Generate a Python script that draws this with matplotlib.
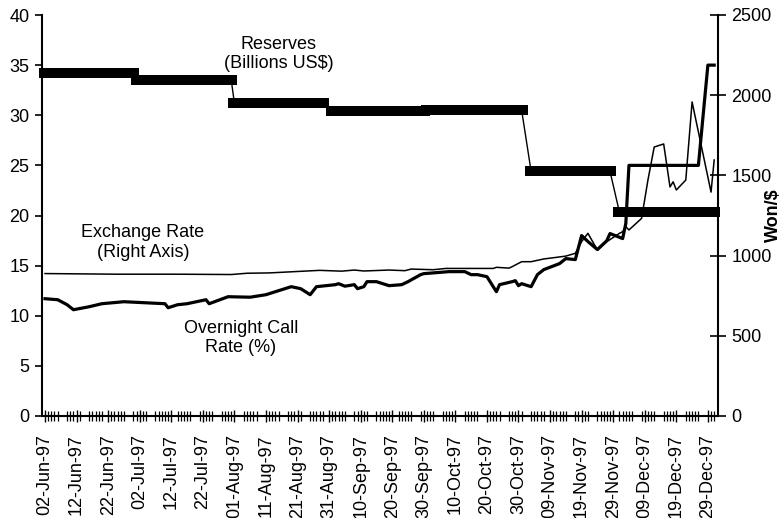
import matplotlib
matplotlib.use("Agg")
import matplotlib.pyplot as plt
import matplotlib.dates as mdates
import matplotlib.ticker as mticker
import pandas as pd

plt.rcParams['font.family'] = ['Liberation Sans', 'DejaVu Sans']
plt.rcParams['font.size'] = 13

# Usable reserves by month, billions US$
reserve_months = ['1997-06', '1997-07', '1997-08', '1997-09', '1997-10', '1997-11', '1997-12']
reserve_values = [34.2, 33.5, 31.2, 30.4, 30.5, 24.4, 20.3]

# Overnight call rate, %
call_dates = ['1997-06-02', '1997-06-06', '1997-06-09', '1997-06-11', '1997-06-16', '1997-06-20',
              '1997-06-27', '1997-07-10', '1997-07-11', '1997-07-14', '1997-07-17', '1997-07-23',
              '1997-07-24', '1997-07-30', '1997-08-06', '1997-08-11', '1997-08-14', '1997-08-19',
              '1997-08-22', '1997-08-25', '1997-08-27', '1997-09-02', '1997-09-03', '1997-09-05',
              '1997-09-08', '1997-09-09', '1997-09-11', '1997-09-12', '1997-09-15', '1997-09-19',
              '1997-09-23', '1997-09-25', '1997-09-29', '1997-09-30', '1997-10-08', '1997-10-13',
              '1997-10-15', '1997-10-17', '1997-10-20', '1997-10-23', '1997-10-24', '1997-10-28',
              '1997-10-29', '1997-10-30', '1997-10-31', '1997-11-03', '1997-11-05', '1997-11-07',
              '1997-11-12', '1997-11-14', '1997-11-17', '1997-11-19', '1997-11-21', '1997-11-24',
              '1997-11-27', '1997-11-28', '1997-12-02', '1997-12-03', '1997-12-04', '1997-12-26',
              '1997-12-29', '1997-12-31']
call_rate = [11.7, 11.6, 11.1, 10.6, 10.9, 11.2,
             11.4, 11.2, 10.8, 11.1, 11.2, 11.6,
             11.2, 11.9, 11.85, 12.1, 12.4, 12.9,
             12.7, 12.1, 12.9, 13.1, 13.2, 12.95,
             13.1, 12.7, 12.9, 13.4, 13.4, 13.0,
             13.1, 13.4, 14.1, 14.2, 14.4, 14.4,
             14.1, 14.1, 13.9, 12.4, 13.1, 13.4,
             13.5, 13.0, 13.2, 12.9, 14.1, 14.6,
             15.2, 15.7, 15.6, 18.0, 17.4, 16.6,
             17.5, 18.2, 17.7, 19.2, 25.0, 25.0,
             35.0, 35.0]

# Won per US dollar
fx_dates = ['1997-06-02', '1997-06-25', '1997-07-14', '1997-07-31', '1997-08-05', '1997-08-12',
            '1997-08-20', '1997-08-28', '1997-09-04', '1997-09-08', '1997-09-11', '1997-09-19',
            '1997-09-24', '1997-09-26', '1997-10-03', '1997-10-07', '1997-10-22', '1997-10-23',
            '1997-10-27', '1997-10-28', '1997-10-31', '1997-11-03', '1997-11-07', '1997-11-11',
            '1997-11-14', '1997-11-17', '1997-11-19', '1997-11-21', '1997-11-24', '1997-11-27',
            '1997-12-01', '1997-12-02', '1997-12-03', '1997-12-04', '1997-12-08', '1997-12-10',
            '1997-12-12', '1997-12-15', '1997-12-17', '1997-12-18', '1997-12-19', '1997-12-22',
            '1997-12-24', '1997-12-30', '1997-12-31']
fx_rate = [888, 884, 884, 882, 890, 892,
           900, 908, 903, 910, 904, 910,
           906, 916, 912, 920, 920, 927,
           922, 931, 962, 962, 979, 989,
           997, 1014, 1087, 1139, 1035, 1087,
           1139, 1149, 1180, 1160, 1232, 1470,
           1677, 1696, 1428, 1460, 1409, 1471,
           1958, 1396, 1596]

# trading days (Mon-Fri) for the reserves step series
days = pd.bdate_range('1997-06-02', '1997-12-31')
reserve_map = dict(zip(reserve_months, reserve_values))
reserves = [reserve_map[d.strftime('%Y-%m')] for d in days]

fig = plt.figure(figsize=(7.82, 5.18), dpi=100)
ax1 = fig.add_axes([42 / 782, 102 / 518, 676 / 782, 401 / 518])
ax2 = ax1.twinx()

ax1.plot(days, reserves, color='black', lw=1, marker='_', ms=8.5, mew=7.2,
         clip_on=False, zorder=3)
ax1.plot(pd.to_datetime(call_dates), call_rate, color='black', lw=2.3, zorder=4)
ax2.plot(pd.to_datetime(fx_dates), fx_rate, color='black', lw=1.1)

ax1.set_ylim(0, 40)
ax1.yaxis.set_major_locator(mticker.MultipleLocator(5))
ax2.set_ylim(0, 2500)
ax2.yaxis.set_major_locator(mticker.MultipleLocator(500))

ax1.set_xlim(pd.Timestamp('1997-06-01 01:00'), pd.Timestamp('1998-01-01 05:00'))
major_days = pd.date_range('1997-06-02', '1997-12-31', freq='10D')
ax1.xaxis.set_major_locator(mticker.FixedLocator(mdates.date2num(major_days)))
ax1.xaxis.set_minor_locator(mticker.FixedLocator(mdates.date2num(days)))
ax1.xaxis.set_major_formatter(mdates.DateFormatter('%d-%b-%y'))
plt.setp(ax1.get_xticklabels(), rotation=90, ha='center', va='top')

ax1.tick_params(axis='x', which='major', direction='inout', length=8, width=1, pad=9)
ax1.tick_params(axis='x', which='minor', direction='inout', length=6.5, width=0.9)
ax1.tick_params(axis='y', direction='out', length=5, width=1.2, pad=4)
ax2.tick_params(axis='y', direction='inout', length=11, width=1.2, pad=4)

for sp in ['top', 'right']:
    ax1.spines[sp].set_visible(False)
for sp in ['top', 'left', 'bottom']:
    ax2.spines[sp].set_visible(False)
ax1.spines['left'].set_linewidth(1.5)
ax1.spines['bottom'].set_linewidth(1.5)
ax2.spines['right'].set_linewidth(1.5)

# right-axis unit label sits between the 1000 and 1500 tick labels
fig.text(773 / 782, 1 - 215 / 518, 'Won/$', rotation=90, fontweight='bold',
         ha='center', va='center')

ax1.text(mdates.date2num(pd.Timestamp('1997-08-15')), 36.1, 'Reserves\n(Billions US$)',
         ha='center', va='center', multialignment='center')
ax1.text(mdates.date2num(pd.Timestamp('1997-07-03')), 17.3, 'Exchange Rate\n(Right Axis)',
         ha='center', va='center', multialignment='center')
ax1.text(mdates.date2num(pd.Timestamp('1997-08-03')), 7.8, 'Overnight Call\nRate (%)',
         ha='center', va='center', multialignment='center')

fig.savefig('out.png', dpi=100)
